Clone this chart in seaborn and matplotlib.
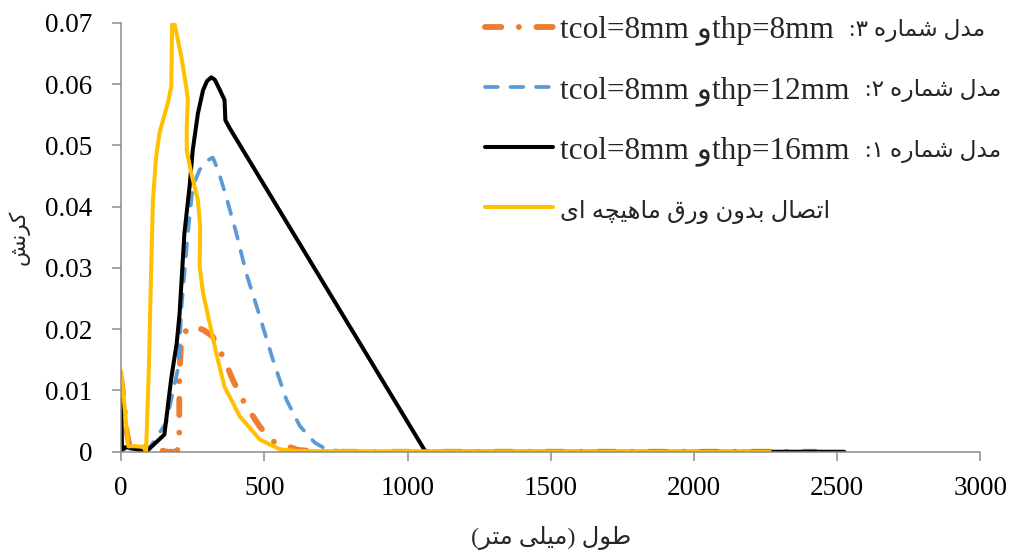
import matplotlib
matplotlib.use("Agg")
import matplotlib.pyplot as plt
import seaborn as sns
import pandas as pd
from matplotlib.ticker import FuncFormatter, MultipleLocator

# model 3: thp=8mm
x_m3 = [0, 10, 20, 30, 90, 124, 160, 195, 203, 203, 210, 230, 256, 290, 320, 361, 390, 431, 484, 530, 618, 700, 2425]
y_m3 = [0.012, 0.008, 0.003, 0.0008, 0.0009, 0.0004, 0.0, 0.0, 0.002, 0.012, 0.0185, 0.0200, 0.0205, 0.0198,
        0.0188, 0.015, 0.0117, 0.0079, 0.0041, 0.0017, 0.0003, 0.0, 0.0]

# model 2: thp=12mm
x_m2 = [0, 30, 90, 157, 200, 211, 233, 250, 274, 300, 320, 338, 367, 402, 437, 484, 530, 577, 624, 676, 720, 800, 2425]
y_m2 = [0.001, 0.0005, 0.0, 0.0047, 0.0139, 0.0237, 0.0357, 0.0433, 0.046, 0.0475, 0.048, 0.046, 0.0416,
        0.0357, 0.0291, 0.0221, 0.015, 0.0085, 0.0042, 0.0015, 0.0003, 0.0, 0.0]

# model 1: thp=16mm
x_m1 = [0, 3, 20, 87, 151, 175, 194, 204, 221, 239, 250, 268, 286, 300, 315, 327, 345, 361, 364, 379, 1063, 2525]
y_m1 = [0.0085, 0.0003, 0.0008, 0.0, 0.0028, 0.012, 0.0177, 0.0225, 0.0357, 0.0433, 0.0492, 0.0552, 0.059,
        0.0605, 0.0611, 0.0607, 0.059, 0.0574, 0.0541, 0.0528, 0.0, 0.0]

# connection without stiffener plate
x_np = [0, 25, 50, 78, 87, 97, 105, 111, 122, 134, 146, 163, 175, 178, 186, 210, 227, 233, 229, 229, 245, 268,
        276, 274, 286, 309, 332, 361, 414, 484, 554, 620, 2265]
y_np = [0.0131, 0.0009, 0.0009, 0.0008, 0.0, 0.0139, 0.0302, 0.041, 0.0481, 0.052, 0.0541, 0.0569, 0.0596,
        0.0699, 0.0699, 0.0645, 0.0596, 0.0574, 0.053, 0.0492, 0.0454, 0.0411, 0.0367, 0.0302, 0.0259, 0.021,
        0.0161, 0.0106, 0.0058, 0.002, 0.0004, 0.0001, 0.0]

# isolated, final, initial, medial
FORMS = {
    'ا': ('\uFE8D', '\uFE8E', None, None),
    'ب': ('\uFE8F', '\uFE90', '\uFE91', '\uFE92'),
    'ت': ('\uFE95', '\uFE96', '\uFE97', '\uFE98'),
    'چ': ('\uFB7A', '\uFB7B', '\uFB7C', '\uFB7D'),
    'د': ('\uFEA9', '\uFEAA', None, None),
    'ر': ('\uFEAD', '\uFEAE', None, None),
    'ش': ('\uFEB5', '\uFEB6', '\uFEB7', '\uFEB8'),
    'ص': ('\uFEB9', '\uFEBA', '\uFEBB', '\uFEBC'),
    'ط': ('\uFEC1', '\uFEC2', '\uFEC3', '\uFEC4'),
    'ق': ('\uFED5', '\uFED6', '\uFED7', '\uFED8'),
    'ک': ('\uFB8E', '\uFB8F', '\uFB90', '\uFB91'),
    'ل': ('\uFEDD', '\uFEDE', '\uFEDF', '\uFEE0'),
    'م': ('\uFEE1', '\uFEE2', '\uFEE3', '\uFEE4'),
    'ن': ('\uFEE5', '\uFEE6', '\uFEE7', '\uFEE8'),
    'ه': ('\uFEE9', '\uFEEA', '\uFEEB', '\uFEEC'),
    'و': ('\uFEED', '\uFEEE', None, None),
    'ی': ('\uFBFC', '\uFBFD', '\uFBFE', '\uFBFF'),
}
MIRROR = {'(': ')', ')': '('}


def fa(s):
    # matplotlib has no arabic shaping / bidi, so do it by hand
    out = []
    for i, c in enumerate(s):
        if c not in FORMS:
            out.append(MIRROR.get(c, c))
            continue
        prev = s[i - 1] if i > 0 else ''
        nxt = s[i + 1] if i + 1 < len(s) else ''
        jp = prev in FORMS and FORMS[prev][2] is not None
        jn = nxt in FORMS and FORMS[c][2] is not None
        iso, fin, ini, med = FORMS[c]
        if jp and jn:
            out.append(med)
        elif jp:
            out.append(fin)
        elif jn:
            out.append(ini)
        else:
            out.append(iso)
    return ''.join(reversed(out))


labels = [
    'tcol=8mm ' + fa('و') + 'thp=8mm',
    'tcol=8mm ' + fa('و') + 'thp=12mm',
    'tcol=8mm ' + fa('و') + 'thp=16mm',
    fa('اتصال بدون ورق ماهیچه ای'),
]
model_names = [fa('مدل شماره ۳:'), fa('مدل شماره ۲:'), fa('مدل شماره ۱:')]

sns.set_style('white')
plt.rcParams['font.family'] = ['Liberation Serif', 'DejaVu Sans']

fig = plt.figure(figsize=(10.18, 5.55), dpi=100)
ax = fig.add_axes([0.119, 0.186, 0.844, 0.773])

df3 = pd.DataFrame({'x': x_m3, 'y': y_m3})
df2 = pd.DataFrame({'x': x_m2, 'y': y_m2})
df1 = pd.DataFrame({'x': x_m1, 'y': y_m1})
df0 = pd.DataFrame({'x': x_np, 'y': y_np})

sns.lineplot(data=df3, x='x', y='y', sort=False, estimator=None, ax=ax, color='#ED7D31', lw=4.2,
             label=labels[0])
ax.lines[-1].set_dashes([2.8, 3, 0.01, 3])
ax.lines[-1].set_dash_capstyle('round')
sns.lineplot(data=df2, x='x', y='y', sort=False, estimator=None, ax=ax, color='#5B9BD5', lw=2.7,
             label=labels[1])
ax.lines[-1].set_dashes([3.4, 3.4])
ax.lines[-1].set_dash_capstyle('round')
sns.lineplot(data=df1, x='x', y='y', sort=False, estimator=None, ax=ax, color='black', lw=2.9,
             label=labels[2])
sns.lineplot(data=df0, x='x', y='y', sort=False, estimator=None, ax=ax, color='#FFC000', lw=2.9,
             label=labels[3])

ax.set_xlim(0, 3000)
ax.set_ylim(0, 0.07)
ax.xaxis.set_major_locator(MultipleLocator(500))
ax.yaxis.set_major_locator(MultipleLocator(0.01))
ax.yaxis.set_major_formatter(FuncFormatter(lambda v, p: '0' if abs(v) < 1e-9 else f'{v:.2f}'))

for side in ['top', 'right']:
    ax.spines[side].set_visible(False)
for side in ['left', 'bottom']:
    ax.spines[side].set_color('#8c8c8c')
    ax.spines[side].set_linewidth(1.1)
ax.tick_params(axis='both', which='major', direction='out', length=6.5, width=1.1, color='#8c8c8c',
               labelsize=19.5, labelcolor='black', left=True, bottom=True)
ax.tick_params(axis='x', pad=11)
ax.tick_params(axis='y', pad=14)

ax.set_xlabel(fa('طول (میلی متر)'), fontsize=17.5, labelpad=18)
ax.set_ylabel(fa('کرنش'), fontsize=15.5, labelpad=11)

leg = ax.legend(loc='upper left', bbox_to_anchor=(0.4764, 0.972), bbox_transform=fig.transFigure,
                frameon=False, fontsize=22.5, handlelength=2.18, handletextpad=0.22, labelspacing=0.98,
                borderaxespad=0, borderpad=0)
texts = leg.get_texts()
texts[3].set_fontsize(17.5)
# persian model names sit right of the latin legend labels; drawn after the legend
for t, name in zip(texts[:3], model_names):
    ax.annotate(name, xy=(1, 0.5), xycoords=t, xytext=(11, 0), textcoords='offset points',
                ha='left', va='center', fontsize=16.8, zorder=10)

fig.savefig('out.png', dpi=100)
